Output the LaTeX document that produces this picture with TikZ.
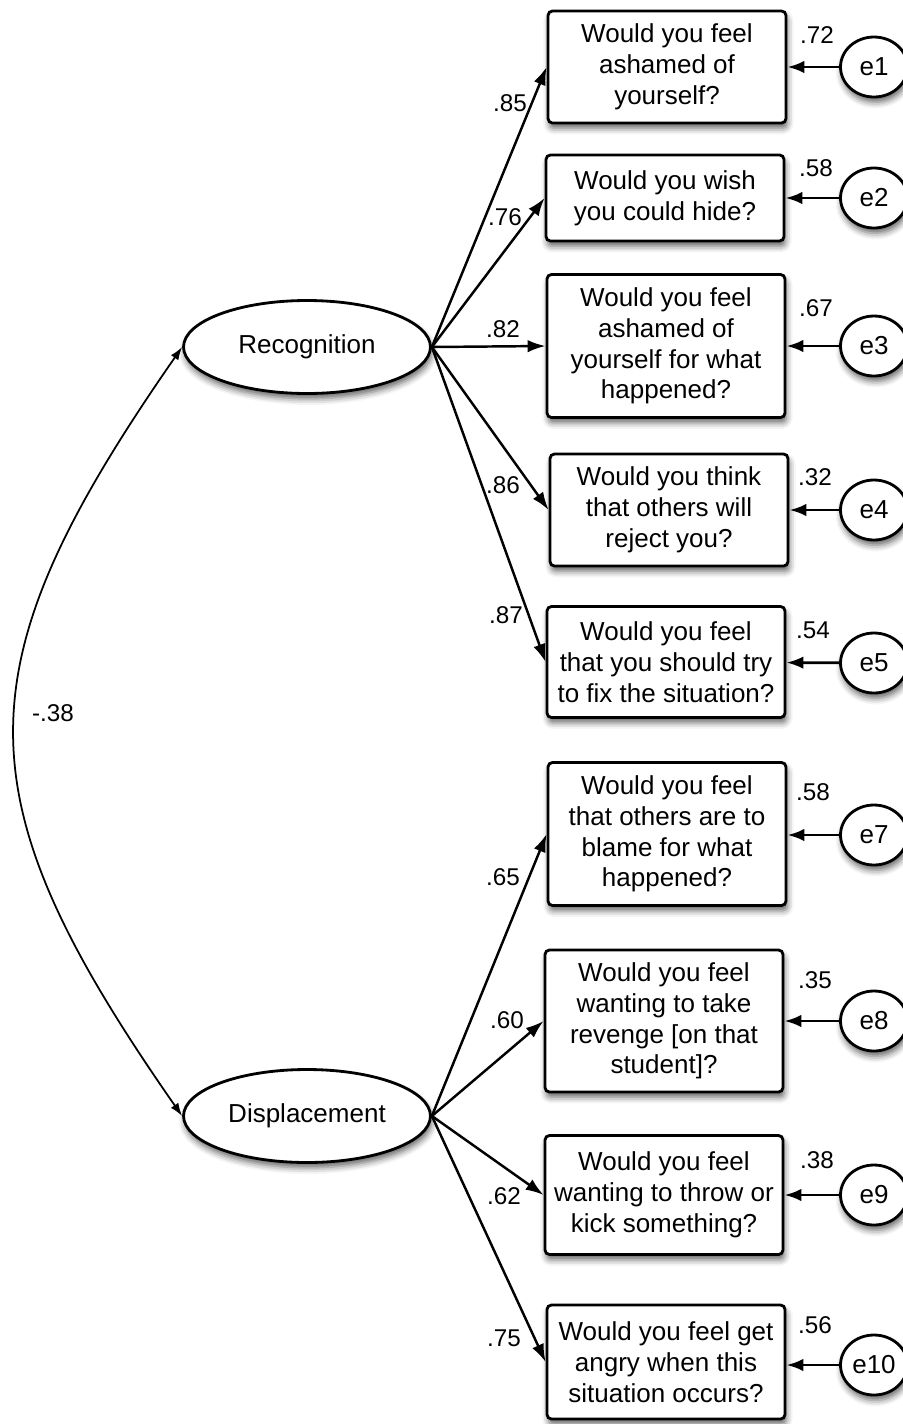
\documentclass[tikz,border=0pt]{standalone}
\usepackage{fontspec}
\setmainfont{Liberation Sans}
\usetikzlibrary{arrows.meta,shapes.geometric,shadows.blur}

\begin{document}
\begin{tikzpicture}[x=0.02cm, y=-0.02cm,
  font=\fontsize{14.8}{17.5}\selectfont,
  shade/.style={blur shadow={shadow xshift=0.8pt, shadow yshift=-3pt, shadow blur radius=3.5pt, shadow opacity=60}},
  indicator/.style={draw, line width=1.6pt, rounded corners=2.5pt, fill=white, minimum width=4.76cm, align=center, inner sep=2pt, shade},
  factor/.style={draw, ellipse, line width=1.6pt, fill=white, minimum width=4.94cm, minimum height=1.86cm, inner sep=0pt, shade},
  errvar/.style={draw, ellipse, line width=1.6pt, fill=white, minimum width=1.34cm, minimum height=1.2cm, inner sep=0pt, shade},
  coef/.style={font=\fontsize{13.8}{16}\selectfont, inner sep=0pt},
  load/.style={line width=1.4pt, -{Latex[length=0.36cm,width=0.25cm]}},
  resid/.style={line width=1.6pt, -{Latex[length=0.34cm,width=0.25cm]}}]
% ---- page size of the reference (in pixels)
\path[use as bounding box] (0,0) rectangle (903,1424);
\clip (0,0) rectangle (903,1424);

% ---- the two factors
\node[factor] (rec) at (307,347) {Recognition};
\node[factor] (dis) at (307,1116) {Displacement};

% ---- items of Recognition
\node[indicator, minimum height=2.24cm] (q1) at (667,67) {Would you feel\\ashamed of\\yourself?};
\node[indicator, minimum height=1.72cm] (q2) at (665,198) {Would you wish\\you could hide?};
\node[indicator, minimum height=2.86cm] (q3) at (666,346) {Would you feel\\ashamed of\\yourself for what\\happened?};
\node[indicator, minimum height=2.24cm] (q4) at (669,510) {Would you think\\that others will\\reject you?};
\node[indicator, minimum height=2.22cm] (q5) at (666,662) {Would you feel\\that you should try\\to fix the situation?};

% ---- items of Displacement
\node[indicator, minimum height=2.86cm] (q7) at (667,834) {Would you feel\\that others are to\\blame for what\\happened?};
\node[indicator, minimum height=2.84cm] (q8) at (664,1021) {Would you feel\\wanting to take\\revenge [on that\\student]?};
\node[indicator, minimum height=2.38cm] (q9) at (664,1195) {Would you feel\\wanting to throw or\\kick something?};
\node[indicator, minimum height=2.28cm] (q10) at (666,1362) {Would you feel get\\angry when this\\situation occurs?};

% ---- error terms
\node[errvar] (e1) at (874,67) {e1};
\node[errvar] (e2) at (874,198) {e2};
\node[errvar] (e3) at (874,346) {e3};
\node[errvar] (e4) at (874,510) {e4};
\node[errvar] (e5) at (874,663) {e5};
\node[errvar] (e7) at (874,835) {e7};
\node[errvar] (e8) at (874,1021) {e8};
\node[errvar] (e9) at (874,1195) {e9};
\node[errvar] (e10) at (874,1365) {e10};

% ---- loadings
\draw[load] (rec.east) -- (q1.west);
\draw[load] (rec.east) -- (q2.west);
\draw[load] (rec.east) -- (q3.west);
\draw[load] (rec.east) -- (q4.west);
\draw[load] (rec.east) -- (q5.west);
\draw[load] (dis.east) -- (q7.west);
\draw[load] (dis.east) -- (q8.west);
\draw[load] (dis.east) -- (q9.west);
\draw[load] (dis.east) -- (q10.west);

% ---- errors to items
\draw[resid] (e1) -- (q1);
\draw[resid] (e2) -- (q2);
\draw[resid] (e3) -- (q3);
\draw[resid] (e4) -- (q4);
\draw[resid] (e5) -- (q5);
\draw[resid] (e7.west) -- (q7.east |- e7.west);
\draw[resid] (e8) -- (q8);
\draw[resid] (e9) -- (q9);
\draw[resid] (e10.west) -- (q10.east |- e10.west);

% ---- correlation of the factors
\draw[line width=1pt, {Latex[length=0.26cm,width=0.18cm]}-{Latex[length=0.26cm,width=0.18cm]}]
  (dis.west) .. controls (-41,796) and (-41,668) .. (rec.west);
\node[coef] (r) at (53,713) {-.38};

% ---- coefficients
\node[coef] (c1) at (510,103) {.85};
\node[coef] (c2) at (505,217) {.76};
\node[coef] (c3) at (503,329) {.82};
\node[coef] (c4) at (503,485) {.86};
\node[coef] (c5) at (506,615) {.87};
\node[coef] (c7) at (503,877) {.65};
\node[coef] (c8) at (507,1020) {.60};
\node[coef] (c9) at (504,1196) {.62};
\node[coef] (c10) at (504,1338) {.75};

\node[coef] (v1) at (817,35) {.72};
\node[coef] (v2) at (816,168) {.58};
\node[coef] (v3) at (816,308) {.67};
\node[coef] (v4) at (815,477) {.32};
\node[coef] (v5) at (813,630) {.54};
\node[coef] (v7) at (813,792) {.58};
\node[coef] (v8) at (815,980) {.35};
\node[coef] (v9) at (817,1160) {.38};
\node[coef] (v10) at (815,1325) {.56};

\end{tikzpicture}
\end{document}
